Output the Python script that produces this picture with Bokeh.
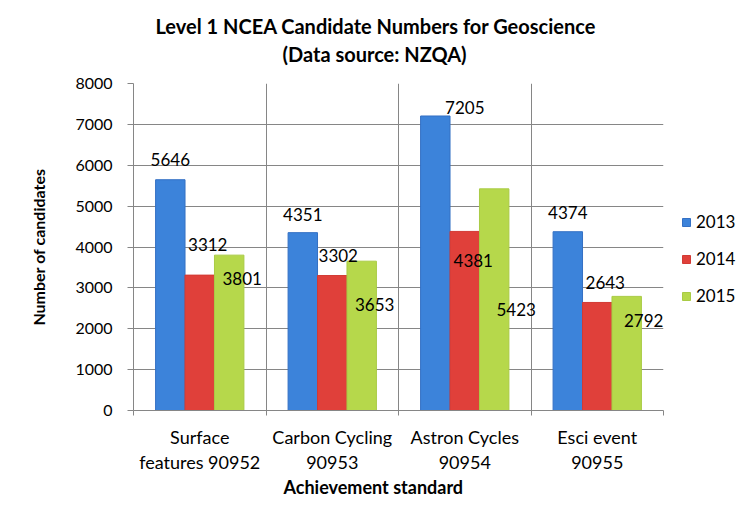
from bokeh.plotting import figure
from bokeh.models import Range1d, FixedTicker, Legend, LegendItem, Title, ColumnDataSource, LabelSet
from bokeh.core.properties import value
from bokeh.embed import file_html
from bokeh.resources import INLINE

# ---- data ----
categories = ["Surface\nfeatures 90952", "Carbon Cycling\n90953", "Astron Cycles\n90954", "Esci event\n90955"]
years = ["2013", "2014", "2015"]
counts_2013 = [5646, 4351, 7205, 4374]
counts_2014 = [3312, 3302, 4381, 2643]
counts_2015 = [3801, 3653, 5423, 2792]
y_ticks = [0, 1000, 2000, 3000, 4000, 5000, 6000, 7000, 8000]
title_lines = ["Level 1 NCEA  Candidate Numbers for Geoscience", "(Data source: NZQA)"]

# ---- styles ----
FONT = "Lato"
GRID = "#868686"
colors = ["#3C83DA", "#E0403A", "#B6D84B"]
edge_colors = ["#3470C4", "#D23A34", "#A9CB45"]
# data-label pixel offsets (right, up) relative to bar centre / bar top
label_dx = [[0, 0, 29.5, 0], [8, 6, 8.5, 8], [13, 13, 22, 17]]
label_dy = [[20, 18.6, 8, 19], [30.5, 20, -28.6, 20], [-23, -43.5, -121, -24.5]]

p = figure(frame_width=530, frame_height=327,
           min_border_left=133, min_border_right=88, min_border_top=83, min_border_bottom=99,
           x_range=Range1d(0, len(categories)), y_range=Range1d(0, 8000),
           output_backend="svg", toolbar_location=None, tools="")
p.outline_line_color = None
p.background_fill_color = "white"
p.border_fill_color = "white"

w = 1 / 4.5
series = [counts_2013, counts_2014, counts_2015]
items = []
for k, (yr, vals) in enumerate(zip(years, series)):
    xs = [i + 0.5 + (k - 1) * w for i in range(len(categories))]
    src = ColumnDataSource(dict(x=xs, top=vals, label=[str(v) for v in vals],
                                dx=label_dx[k], dy=label_dy[k]))
    r = p.vbar(x="x", top="top", bottom=0, width=w, source=src,
               fill_color=colors[k], line_color=edge_colors[k], line_width=1)
    labels = LabelSet(x="x", y="top", text="label", x_offset="dx", y_offset="dy", source=src,
                      text_font=value(FONT), text_font_size=value("17px"), text_align="center",
                      text_baseline="middle", text_color="black")
    p.add_layout(labels)
    items.append(LegendItem(label=yr, renderers=[r]))

# x axis
p.xaxis.ticker = FixedTicker(ticks=[i + 0.5 for i in range(len(categories))],
                             minor_ticks=list(range(len(categories) + 1)))
p.xaxis.major_label_overrides = {i + 0.5: c for i, c in enumerate(categories)}
p.xaxis.major_tick_line_color = None
p.xaxis.major_tick_out = 0
p.xaxis.major_tick_in = 0
p.xaxis.minor_tick_out = 5
p.xaxis.minor_tick_in = 0
p.xaxis.minor_tick_line_color = GRID
p.xaxis.axis_line_color = GRID
p.xaxis.major_label_text_font = FONT
p.xaxis.major_label_text_font_size = "18px"
p.xaxis.major_label_text_color = "black"
p.xaxis.major_label_text_line_height = 1.15
p.xaxis.major_label_standoff = 10
p.xgrid.ticker = FixedTicker(ticks=list(range(len(categories) + 1)))
p.xgrid.grid_line_color = GRID

# y axis
p.yaxis.ticker = FixedTicker(ticks=y_ticks)
p.yaxis.major_tick_out = 6
p.yaxis.major_tick_in = 0
p.yaxis.major_tick_line_color = GRID
p.yaxis.minor_tick_line_color = None
p.yaxis.axis_line_color = GRID
p.yaxis.major_label_text_font = FONT
p.yaxis.major_label_text_font_size = "16px"
p.yaxis.major_label_text_color = "black"
p.yaxis.major_label_standoff = 15
p.yaxis.axis_label = "Number of candidates"
p.yaxis.axis_label_text_font = FONT
p.yaxis.axis_label_text_font_size = "16px"
p.yaxis.axis_label_text_font_style = "bold"
p.yaxis.axis_label_text_color = "black"
p.yaxis.axis_label_standoff = 24
p.ygrid.grid_line_color = GRID

# titles (closest to the frame added first)
t2 = Title(text=title_lines[1], align="left", offset=149, text_font=FONT, text_font_size="20px",
           text_font_style="bold", text_color="black", standoff=36)
p.add_layout(t2, "above")
t1 = Title(text=title_lines[0], align="left", offset=22, text_font=FONT, text_font_size="20px",
           text_font_style="bold", text_color="black", standoff=-33)
p.add_layout(t1, "above")
xt = Title(text="Achievement standard", align="left", offset=150, text_font=FONT,
           text_font_size="18px", text_font_style="bold", text_color="black", standoff=-4)
p.add_layout(xt, "below")

legend = Legend(items=items, location=(18, 104), glyph_width=10, glyph_height=10,
                label_text_font=FONT, label_text_font_size="17px", label_text_color="black",
                spacing=16, padding=10, margin=0, border_line_color=None,
                background_fill_alpha=0, label_standoff=5, label_height=18)
p.add_layout(legend, "right")

open("out.html", "w").write(file_html(p, INLINE))
